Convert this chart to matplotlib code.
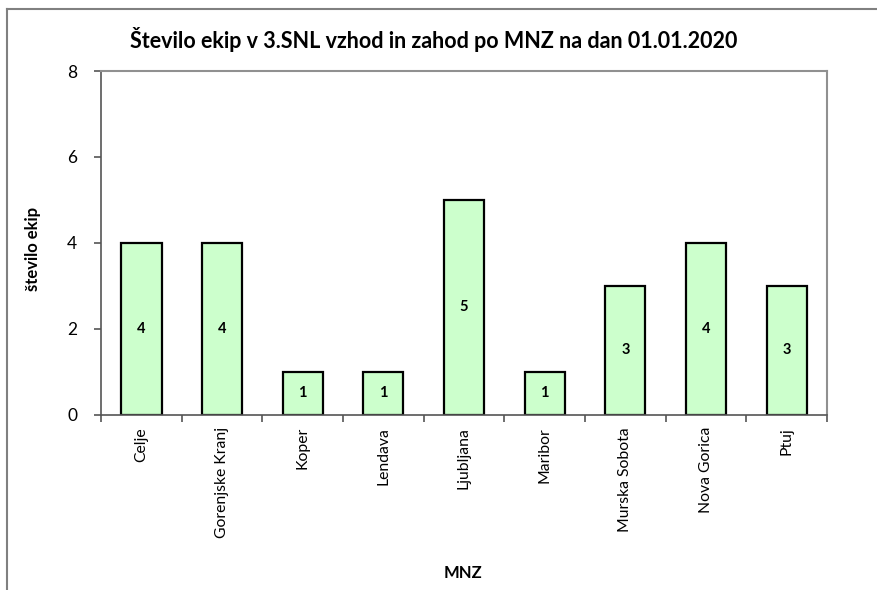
import matplotlib
matplotlib.use("Agg")
import matplotlib.pyplot as plt
from matplotlib.lines import Line2D

categories = ["Celje", "Gorenjske Kranj", "Koper", "Lendava", "Ljubljana",
              "Maribor", "Murska Sobota", "Nova Gorica", "Ptuj"]
values = [4, 4, 1, 1, 5, 1, 3, 4, 3]
yticks = [0, 2, 4, 6, 8]

plt.rcParams['font.family'] = ['Lato', 'DejaVu Sans']

W, H = 877, 590
fig = plt.figure(figsize=(W / 100, H / 100), dpi=100)

# outer frame (left and top visible)
fig.add_artist(Line2D([7 / W, 7 / W], [0, 1 - 9 / H], transform=fig.transFigure,
                      color="#808080", lw=1.5))
fig.add_artist(Line2D([7 / W, 1], [1 - 9 / H, 1 - 9 / H], transform=fig.transFigure,
                      color="#808080", lw=1.5))

x0, x1 = 101, 827
y0, y1 = 414.5, 71
ax = fig.add_axes([x0 / W, 1 - y0 / H, (x1 - x0) / W, (y0 - y1) / H])

pos = list(range(len(categories)))
bars = ax.bar(pos, values, width=0.5, color="#CCFFCC", edgecolor="black", linewidth=1.6)
for p, v in zip(pos, values):
    ax.text(p, v / 2, str(v), ha="center", va="center", fontsize=10.5, fontweight="bold")

ax.set_xlim(-0.5, len(categories) - 0.5)
ax.set_ylim(0, 8)
ax.set_yticks(yticks)
ax.set_yticklabels([str(t) for t in yticks], fontsize=12.5)
ax.set_xticks([p + 0.5 for p in pos[:-1]] + [-0.5, len(categories) - 0.5])
ax.set_xticklabels([])
ax.set_xticks(pos, minor=True)
ax.set_xticklabels(categories, minor=True, rotation=90, fontsize=11.3, va="top")
ax.tick_params(axis="x", which="minor", length=0, pad=9)
ax.tick_params(axis="x", which="major", length=5, color="#555555", width=1.2, direction="out")
ax.tick_params(axis="y", length=5, color="#555555", width=1.2, direction="out", pad=12)

for s in ["left", "bottom"]:
    ax.spines[s].set_color("#555555")
    ax.spines[s].set_linewidth(1.2)
for s in ["top", "right"]:
    ax.spines[s].set_color("#909090")
    ax.spines[s].set_linewidth(1.5)

fig.text(434 / W, 1 - 40 / H, "Število ekip v 3.SNL vzhod in zahod po MNZ na dan 01.01.2020",
         ha="center", va="center", fontsize=15.5, fontweight="bold")
fig.text(33 / W, 1 - 249 / H, "število ekip", rotation=90, ha="center", va="center",
         fontsize=12, fontweight="bold")
fig.text(463 / W, 1 - 573 / H, "MNZ", ha="center", va="center", fontsize=12, fontweight="bold")

fig.savefig("out.png", dpi=100)
